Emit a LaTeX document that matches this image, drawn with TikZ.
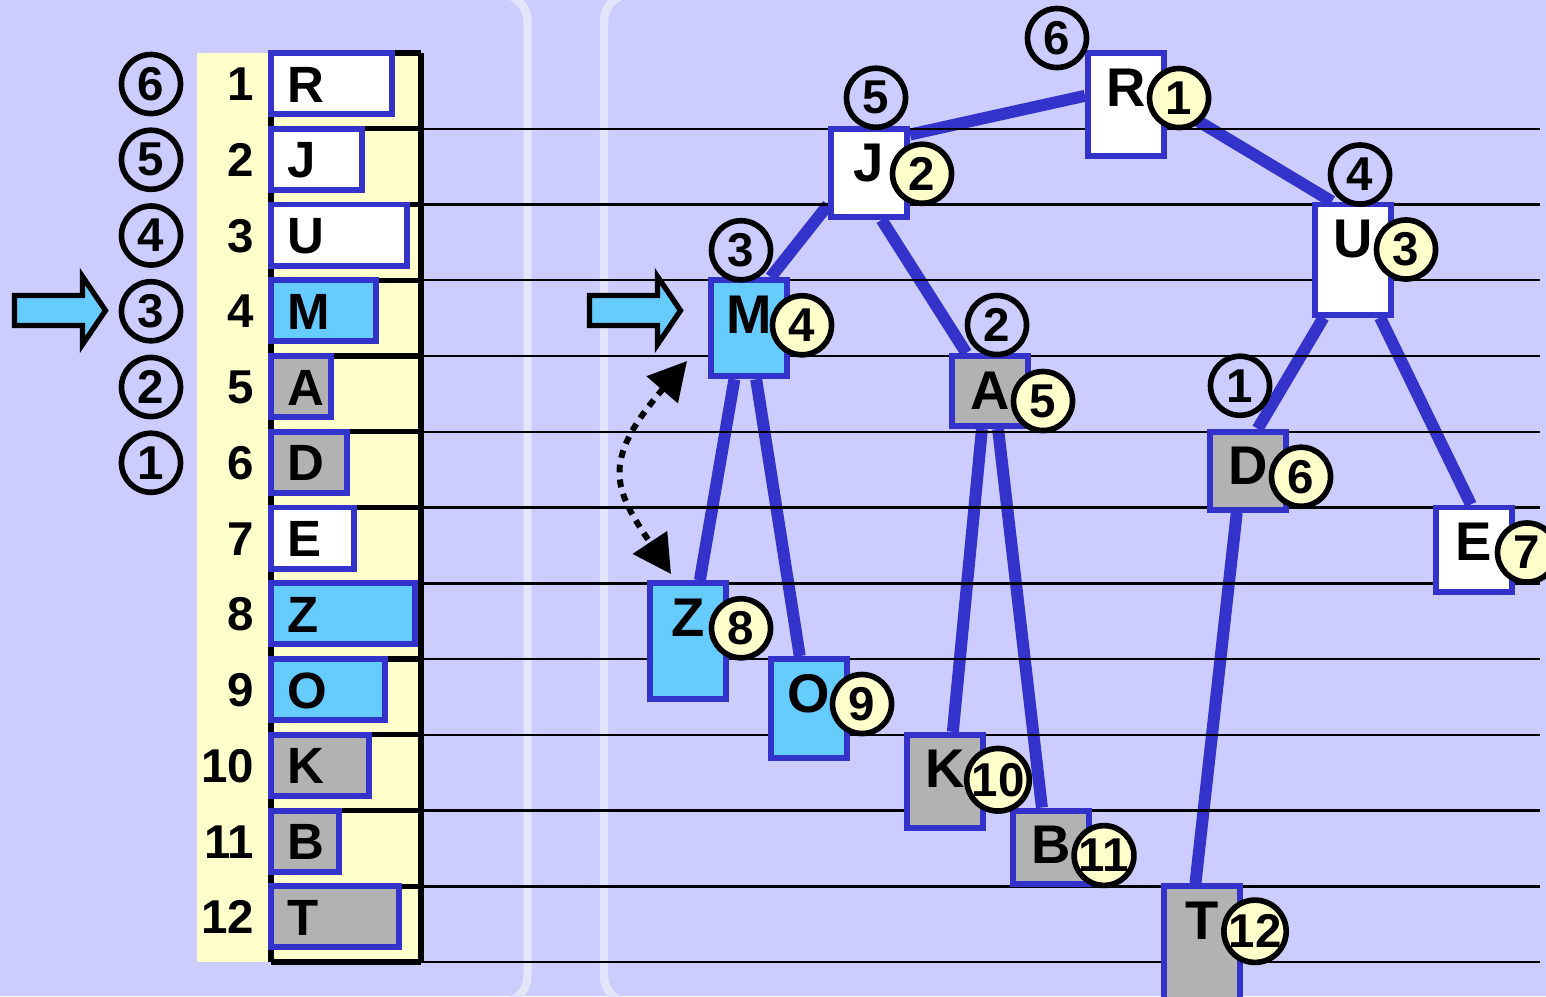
\documentclass[tikz,border=0pt]{standalone}
\usepackage{fontspec}
\setmainfont{Liberation Sans}
\usetikzlibrary{arrows.meta,calc,backgrounds}
\definecolor{lavbg}{HTML}{CCCCFF}
\definecolor{panelW}{HTML}{E4E4FA}
\definecolor{rimblue}{HTML}{3333CC}
\definecolor{keyblue}{HTML}{66CCFF}
\definecolor{keygray}{HTML}{B2B2B2}
\definecolor{cream}{HTML}{FFFFCC}
\tikzset{
  cellbox/.style={draw=rimblue,line width=1.7pt,anchor=north west,minimum height=0.61cm,inner sep=0pt},
  kbox/.style={draw=rimblue,line width=1.7pt,anchor=north west,minimum width=0.76cm,inner sep=0pt},
  clet/.style={font=\fontsize{14.5}{16}\selectfont\bfseries,inner sep=0pt},
  klet/.style={font=\fontsize{15.5}{17}\selectfont\bfseries,inner sep=0pt},
  idx/.style={font=\fontsize{13.5}{15}\selectfont\bfseries,inner sep=0pt},
  ordc/.style={circle,draw=black,line width=1.6pt,minimum size=0.59cm,inner sep=0pt,font=\fontsize{13.5}{15}\selectfont\bfseries},
  posc/.style={ordc,fill=cream},
  kedge/.style={rimblue,line width=3.4pt},
  rowline/.style={black,line width=0.7pt},
  tabline/.style={black,line width=1.5pt},
  panel/.style={draw=panelW,line width=2.4pt,rounded corners=0.27cm},
  ptrline/.style={draw=black,fill=keyblue,line width=1.5pt,line join=miter},
  swaparrow/.style={{Triangle[length=0.38cm,width=0.4cm]}-{Triangle[length=0.38cm,width=0.4cm]},line width=1.7pt,dash pattern=on 2.2pt off 2pt},
  ptrarrow/.pic={\draw[ptrline] (0,-15) -- (68,-15) -- (68,-34) -- (91,0) -- (68,34) -- (68,15) -- (0,15) -- cycle;}
}
% row / key / width / fill of the array cells
\newcommand{\celllist}{1/R/127/white,2/J/97/white,3/U/142/white,4/M/111/keyblue,5/A/66/keygray,6/D/82/keygray,7/E/89/white,8/Z/150/keyblue,9/O/120/keyblue,10/K/104/keygray,11/B/74/keygray,12/T/134/keygray}
% key / left x / row / height / fill of the tree boxes
\newcommand{\keylist}{R/1085/1/109/white,J/828/2/94/white,U/1312/3/116/white,M/708/4/102/keyblue,A/949/5/76/keygray,D/1207/6/84/keygray,E/1433/7/90/white,Z/647/8/122/keyblue,O/768/9/105/keyblue,K/904/10/99/keygray,B/1010/11/79/keygray,T/1161/12/125/keygray}

\begin{document}
\begin{tikzpicture}[x=0.01cm,y=-0.01cm]
\useasboundingbox (0,0) rectangle (1546,996);
% array
\fill[cream] (197,53) rectangle (421,962);
\foreach \ri in {0,...,12}{\draw[tabline] (271,{53+\ri*75.75}) -- (421,{53+\ri*75.75});}
\draw[tabline,line width=1.7pt] (271,53) -- (271,962) (421,53) -- (421,962);
\foreach \ri/\kn/\w/\kc in \celllist{
  \pgfmathsetmacro\rt{53+(\ri-1)*75.75}
  \pgfmathsetmacro\cw{(\w-6)/100}
  \node[cellbox,fill=\kc,minimum width=\cw cm] (c\ri) at (268,\rt-3) {};
  \node[clet,anchor=base west] (cl\ri) at (287,\rt+49) {\kn};
  \node[idx,anchor=base east] (n\ri) at (255,\rt+47.5) {\ri};
}
\foreach \ri/\ord in {1/6,2/5,3/4,4/3,5/2,6/1}{\node[ordc] (o\ri) at (151,{53+(\ri-1)*75.75+31}) {\ord};}
% tree
\foreach \kn/\kx/\ri/\kh/\kc in \keylist{
  \pgfmathsetmacro\kt{50+(\ri-1)*75.75}
  \pgfmathsetmacro\bh{(\kh-6)/100}
  \node[kbox,fill=\kc,minimum height=\bh cm] (\kn) at (\kx,\kt) {};
  \node[klet,anchor=base] (l\kn) at ([yshift=-0.56cm]\kn.north) {\kn};
}
\foreach \kn/\kx/\ri/\kh/\kc in \keylist{\node[posc] (p\kn) at ([shift={(12,48)}]\kn.north east) {\ri};}
\foreach \kn/\ord/\dx/\dy in {R/6/-69/-12,J/5/7/-28,U/4/7/-27,M/3/-8/-27,A/2/7/-28,D/1/-8/-43}{
  \node[ordc] (q\kn) at ([shift={(\dx,\dy)}]\kn.north) {\ord};
}
% pointers
\pic at (14.5,310.5) {ptrarrow};
\pic at (589.5,310.5) {ptrarrow};
\coordinate (swapT) at (687,361);
\coordinate (swapB) at (671,574);
\draw[swaparrow] (swapT) .. controls (599,463) and (615,490) .. (swapB);
\begin{scope}[on background layer]
  \fill[lavbg] (0,0) rectangle (1546,996);
  \draw[panel] (-60,-6) rectangle (527.5,1003);
  \draw[panel] (604,-6) rectangle (1620,1003);
  \foreach \up/\ua/\dn/\da in {R/168/J/43,R/3/U/110,J/218/M/67,J/285/A/122,M/254/Z/79,M/278/O/100,A/258/K/81,A/282/B/103,U/243/D/77,U/295/E/94,D/255/T/96}{
    \draw[kedge] (\up.\ua) -- (\dn.\da);
  }
  \foreach \ri in {1,...,12}{\draw[rowline] (421,{53+\ri*75.75}) -- (1540,{53+\ri*75.75});}
\end{scope}
\end{tikzpicture}
\end{document}
